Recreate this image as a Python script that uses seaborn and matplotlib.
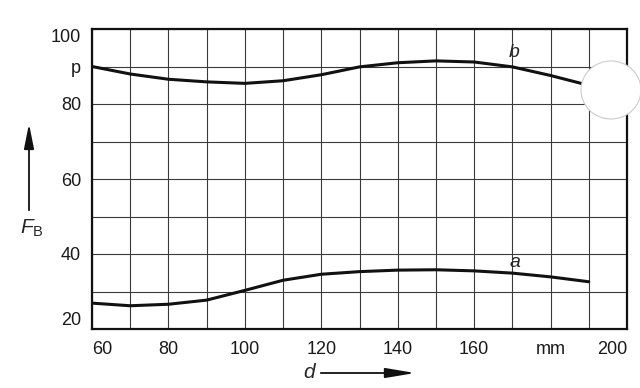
import matplotlib
matplotlib.use("Agg")
import matplotlib.pyplot as plt
import seaborn as sns
import pandas as pd
from matplotlib.patches import Ellipse

# curve b (upper) and curve a (lower), F_B over d in mm
d_b = [60, 70, 80, 90, 100, 110, 120, 130, 140, 150, 160, 170, 180, 188]
fb_b = [90.0, 88.0, 86.6, 85.9, 85.5, 86.2, 87.8, 89.9, 91.0, 91.5, 91.2, 89.9, 87.6, 85.5]
d_a = [60, 70, 80, 90, 100, 110, 120, 130, 140, 150, 160, 170, 180, 190]
fb_a = [26.9, 26.2, 26.6, 27.7, 30.3, 33.0, 34.6, 35.3, 35.7, 35.8, 35.5, 34.9, 33.9, 32.6]

x_ticks = [60, 80, 100, 120, 140, 160, 180, 200]
x_labels = ["60", "80", "100", "120", "140", "160", "mm", "200"]
y_ticks = [20, 40, 60, 80, 90, 100]
y_labels = ["20", "40", "60", "80", "p", "100"]

sns.set_style("white")
plt.rcParams["font.family"] = ["Liberation Sans", "DejaVu Sans"]
plt.rcParams["mathtext.fontset"] = "custom"
plt.rcParams["mathtext.rm"] = "Liberation Sans"
plt.rcParams["mathtext.it"] = "Liberation Sans:italic"

fig = plt.figure(figsize=(6.4, 3.88), dpi=100)
ax = fig.add_axes([92 / 640, 1 - 329 / 388, 535 / 640, 300 / 388])

df = pd.concat([
    pd.DataFrame({"d": d_b, "F": fb_b, "curve": "b"}),
    pd.DataFrame({"d": d_a, "F": fb_a, "curve": "a"}),
])
sns.lineplot(data=df, x="d", y="F", hue="curve", units="curve", estimator=None,
             palette={"a": "#111111", "b": "#111111"}, linewidth=2.2, legend=False,
             ax=ax, zorder=3)

ax.set_xlim(60, 200)
ax.set_ylim(20, 100)
ax.set_xticks(x_ticks)
ax.set_xticklabels(x_labels)
ax.set_yticks(y_ticks)
ax.set_yticklabels(y_labels)
ax.set_xticks(range(60, 201, 10), minor=True)
ax.set_yticks(range(20, 101, 10), minor=True)
ax.grid(which="both", color="#3a3a3a", linewidth=0.8)
ax.tick_params(which="both", length=0, labelsize=13, colors="#1a1a1a")
ax.tick_params(axis="x", pad=9)
ax.tick_params(axis="y", pad=8)
ax.set_xlabel("")
ax.set_ylabel("")
for s in ax.spines.values():
    s.set_color("#111111")
    s.set_linewidth(1.6)

xl = ax.get_xticklabels()
xl[0].set_ha("left")
xl[-1].set_ha("right")
yl = ax.get_yticklabels()
yl[0].set_va("bottom")
yl[-1].set_va("top")

ax.text(170.6, 93.7, "b", style="italic", fontsize=14, ha="center", va="center")
ax.text(170.7, 37.7, "a", style="italic", fontsize=14, ha="center", va="center")

# axis arrows
ax.annotate("", xy=(29, 388 - 121), xytext=(29, 388 - 213), xycoords="figure pixels",
            arrowprops=dict(arrowstyle="-|>,head_length=1.5,head_width=0.3",
                            lw=1.3, color="#111111"))
fig.text(32 / 640, 1 - 228 / 388, r"$F_{\mathrm{B}}$", fontsize=15, ha="center", va="center")
ax.annotate("", xy=(418, 15), xytext=(318, 15), xycoords="figure pixels",
            arrowprops=dict(arrowstyle="-|>,head_length=1.8,head_width=0.3",
                            lw=1.3, color="#111111"))
fig.text(309 / 640, 1 - 372 / 388, "d", style="italic", fontsize=15, ha="center", va="center")

# punched hole at the right edge of the scan
hole = Ellipse((611 / 640, 1 - 90 / 388), 60 / 640, 58 / 388, transform=fig.transFigure,
               facecolor="white", edgecolor="#cccccc", linewidth=0.8, zorder=10)
fig.patches.append(hole)

fig.savefig("out.png", dpi=100)
